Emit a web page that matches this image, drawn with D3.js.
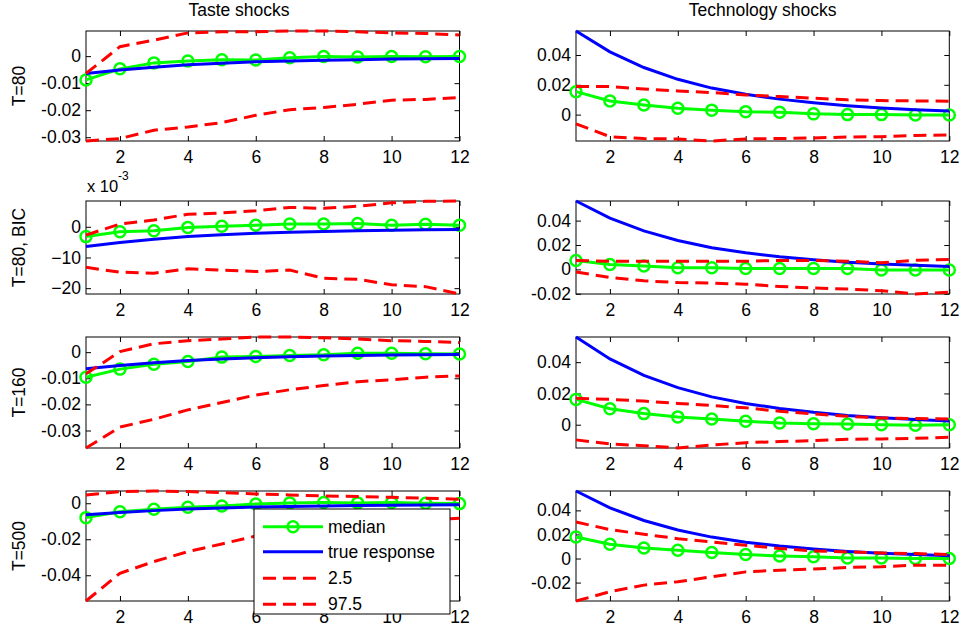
<!DOCTYPE html>
<html><head><meta charset="utf-8">
<script src="https://cdn.jsdelivr.net/npm/d3@7"></script>
<style>
body{margin:0;background:#fff}
svg{display:block}
text{font-family:"Liberation Sans",Arial,Helvetica,sans-serif;fill:#000}
</style>
</head><body>
<svg id="chart" width="963" height="633"></svg>
<script>
// ---------------- DATA ----------------
const steps = [1,2,3,4,5,6,7,8,9,10,11,12];
const xTicks = [2,4,6,8,10,12];
const colTitles = ["Taste shocks","Technology shocks"];
const rowLabels = ["T=80","T=80, BIC","T=160","T=500"];
const legendLabels = ["median","true response","2.5","97.5"];

// true responses
const trueTaste = [-0.0064,-0.0051,-0.0041,-0.0032,-0.0026,-0.0021,-0.0018,-0.0015,-0.0013,-0.0011,-0.0010,-0.0009];
const trueTech  = [0.0561,0.0421,0.0316,0.0237,0.0178,0.0136,0.0104,0.0079,0.0059,0.0044,0.0033,0.0024];

// Taste shocks
const tasteMedT80  = [-0.0088,-0.0047,-0.0025,-0.0018,-0.0013,-0.0014,-0.0006,-0.0001,-0.0003,-0.0001,-0.0002,-0.0001];
const tasteLowT80  = [-0.0314,-0.0305,-0.0274,-0.0262,-0.0246,-0.0219,-0.0198,-0.0190,-0.0178,-0.0163,-0.0160,-0.0153];
const tasteHighT80 = [-0.0064,0.0035,0.0059,0.0086,0.0090,0.0090,0.0093,0.0093,0.0090,0.0086,0.0084,0.0078];

const tasteMedBIC  = [-0.0032,-0.0016,-0.0013,-0.0002,0.0002,0.0005,0.0009,0.0009,0.0011,0.0005,0.0008,0.0005];
const tasteLowBIC  = [-0.0132,-0.0148,-0.0151,-0.0137,-0.0141,-0.0146,-0.0141,-0.0168,-0.0171,-0.0189,-0.0195,-0.0219];
const tasteHighBIC = [-0.0027,0.0009,0.0022,0.0041,0.0045,0.0052,0.0063,0.0060,0.0067,0.0078,0.0083,0.0084];

const tasteMedT160  = [-0.0096,-0.0065,-0.0046,-0.0036,-0.0019,-0.0017,-0.0013,-0.0010,-0.0004,-0.0004,-0.0006,-0.0007];
const tasteLowT160  = [-0.0367,-0.0287,-0.0257,-0.0221,-0.0193,-0.0164,-0.0144,-0.0128,-0.0113,-0.0106,-0.0096,-0.0091];
const tasteHighT160 = [-0.0083,0.0002,0.0032,0.0044,0.0050,0.0058,0.0058,0.0055,0.0050,0.0044,0.0041,0.0037];

const tasteMedT500  = [-0.0080,-0.0047,-0.0033,-0.0022,-0.0015,-0.0004,0.0002,0.0004,0.0002,0.0004,0.0000,-0.0002];
const tasteLowT500  = [-0.0543,-0.0389,-0.0324,-0.0269,-0.0226,-0.0182,-0.0155,-0.0133,-0.0115,-0.0102,-0.0092,-0.0083];
const tasteHighT500 = [0.0046,0.0065,0.0068,0.0065,0.0059,0.0052,0.0046,0.0041,0.0037,0.0033,0.0028,0.0022];

// Technology shocks
const techMedT80  = [0.0154,0.0092,0.0065,0.0043,0.0030,0.0020,0.0016,0.0005,0.0000,0.0000,-0.0002,-0.0002];
const techLowT80  = [-0.0062,-0.0148,-0.0161,-0.0163,-0.0177,-0.0163,-0.0160,-0.0157,-0.0150,-0.0148,-0.0140,-0.0136];
const techHighT80 = [0.0188,0.0188,0.0172,0.0159,0.0148,0.0132,0.0121,0.0110,0.0099,0.0094,0.0092,0.0090];

const techMedBIC  = [0.0073,0.0040,0.0027,0.0013,0.0013,0.0008,0.0008,0.0008,0.0008,-0.0005,-0.0005,-0.0005];
const techLowBIC  = [-0.0021,-0.0067,-0.0094,-0.0108,-0.0113,-0.0121,-0.0140,-0.0153,-0.0161,-0.0175,-0.0202,-0.0186];
const techHighBIC = [0.0073,0.0067,0.0067,0.0067,0.0067,0.0067,0.0073,0.0073,0.0067,0.0054,0.0075,0.0081];

const techMedT160  = [0.0162,0.0102,0.0071,0.0050,0.0037,0.0022,0.0011,0.0006,0.0004,0.0000,-0.0004,0.0000];
const techLowT160  = [-0.0097,-0.0123,-0.0134,-0.0149,-0.0130,-0.0115,-0.0108,-0.0102,-0.0093,-0.0091,-0.0087,-0.0080];
const techHighT160 = [0.0169,0.0162,0.0151,0.0136,0.0123,0.0108,0.0086,0.0069,0.0054,0.0043,0.0039,0.0037];

const techMedT500  = [0.0179,0.0118,0.0088,0.0069,0.0050,0.0033,0.0021,0.0014,0.0005,0.0005,0.0000,0.0000];
const techLowT500  = [-0.0353,-0.0276,-0.0221,-0.0193,-0.0152,-0.0111,-0.0097,-0.0088,-0.0074,-0.0069,-0.0055,-0.0055];
const techHighT500 = [0.0303,0.0240,0.0201,0.0165,0.0137,0.0110,0.0083,0.0063,0.0055,0.0046,0.0041,0.0033];

// y tick values
const tasteTicksT80  = [-0.03,-0.02,-0.01,0];
const tasteTicksBIC  = [-0.02,-0.01,0];
const tasteTicksT160 = [-0.03,-0.02,-0.01,0];
const tasteTicksT500 = [-0.04,-0.02,0];
const techTicksT80   = [0,0.02,0.04];
const techTicksBIC   = [-0.02,0,0.02,0.04];
const techTicksT160  = [0,0.02,0.04];
const techTicksT500  = [-0.02,0,0.02,0.04];

// ---------------- LAYOUT ----------------
const colX = [[86,459.5],[576,949.3]];
const rowY = [[31,141],[201,294],[337,448],[491,601]];
const FS = 17.5;
const GREEN = "#00ff00", BLUE = "#0000ff", RED = "#ff0000";

const panels = [
  {r:0,c:0,med:tasteMedT80,low:tasteLowT80,high:tasteHighT80,truth:trueTaste,ticks:tasteTicksT80},
  {r:1,c:0,med:tasteMedBIC,low:tasteLowBIC,high:tasteHighBIC,truth:trueTaste,ticks:tasteTicksBIC,exp:true},
  {r:2,c:0,med:tasteMedT160,low:tasteLowT160,high:tasteHighT160,truth:trueTaste,ticks:tasteTicksT160},
  {r:3,c:0,med:tasteMedT500,low:tasteLowT500,high:tasteHighT500,truth:trueTaste,ticks:tasteTicksT500},
  {r:0,c:1,med:techMedT80,low:techLowT80,high:techHighT80,truth:trueTech,ticks:techTicksT80},
  {r:1,c:1,med:techMedBIC,low:techLowBIC,high:techHighBIC,truth:trueTech,ticks:techTicksBIC},
  {r:2,c:1,med:techMedT160,low:techLowT160,high:techHighT160,truth:trueTech,ticks:techTicksT160},
  {r:3,c:1,med:techMedT500,low:techLowT500,high:techHighT500,truth:trueTech,ticks:techTicksT500}
];

const svg = d3.select("#chart");
svg.append("rect").attr("width",963).attr("height",633).attr("fill","#fff");

const fmt = d => d === 0 ? "0" : String(+d.toFixed(4));

panels.forEach(p => {
  const [x0,x1] = colX[p.c];
  const [y0,y1] = rowY[p.r];
  const x = d3.scaleLinear().domain([1,12]).range([x0,x1]);
  const all = [].concat(p.med,p.low,p.high,p.truth);
  const y = d3.scaleLinear().domain(d3.extent(all)).range([y1,y0]);
  const g = svg.append("g");

  // frame
  g.append("rect").attr("x",x0).attr("y",y0).attr("width",x1-x0).attr("height",y1-y0)
    .attr("fill","#fff").attr("stroke","none");

  const yfmt = p.exp ? (d => d3.format("d")(Math.round(d*1000))) : fmt;

  // axes (ticks inward, mirrored)
  const ab = g.append("g").attr("transform",`translate(0,${y1})`)
    .call(d3.axisBottom(x).tickValues(xTicks).tickSizeInner(-5).tickSizeOuter(0).tickPadding(9.5).tickFormat(d3.format("d")));
  const at = g.append("g").attr("transform",`translate(0,${y0})`)
    .call(d3.axisTop(x).tickValues(xTicks).tickSizeInner(-5).tickSizeOuter(0).tickFormat(""));
  const al = g.append("g").attr("transform",`translate(${x0},0)`)
    .call(d3.axisLeft(y).tickValues(p.ticks).tickSizeInner(-5).tickSizeOuter(0).tickPadding(5).tickFormat(yfmt));
  const ar = g.append("g").attr("transform",`translate(${x1},0)`)
    .call(d3.axisRight(y).tickValues(p.ticks).tickSizeInner(-5).tickSizeOuter(0).tickFormat(""));
  [ab,at,al,ar].forEach(a => {
    a.select(".domain").remove();
    a.selectAll("line").attr("stroke","#000").attr("stroke-width",1);
    a.selectAll("text").attr("font-size",FS).attr("font-family",null).attr("fill","#000");
  });
  g.append("rect").attr("x",x0).attr("y",y0).attr("width",x1-x0).attr("height",y1-y0)
    .attr("fill","none").attr("stroke","#000").attr("stroke-width",1);

  const line = arr => d3.line().x((d,i)=>x(steps[i])).y(d=>y(d))(arr);

  // median
  g.append("path").attr("d",line(p.med)).attr("fill","none").attr("stroke",GREEN).attr("stroke-width",3);
  g.selectAll("circle.m").data(p.med).join("circle")
    .attr("cx",(d,i)=>x(steps[i])).attr("cy",d=>y(d)).attr("r",5.5)
    .attr("fill","none").attr("stroke",GREEN).attr("stroke-width",2.5);
  // true
  g.append("path").attr("d",line(p.truth)).attr("fill","none").attr("stroke",BLUE).attr("stroke-width",3);
  // bands
  [p.low,p.high].forEach(b => {
    g.append("path").attr("d",line(b)).attr("fill","none").attr("stroke",RED)
      .attr("stroke-width",3).attr("stroke-dasharray","13,7");
  });

  // row label
  if (p.c === 0) {
    svg.append("text").attr("transform",`translate(25,${(y0+y1)/2}) rotate(-90)`)
      .attr("text-anchor","middle").attr("font-size",FS).text(rowLabels[p.r]);
  }
  if (p.exp) {
    svg.append("text").attr("x",x0+1).attr("y",y0-9).attr("font-size",FS-1).text("x 10");
    svg.append("text").attr("x",x0+32).attr("y",y0-21).attr("font-size",12).text("-3");
  }
  if (p.r === 0) {
    svg.append("text").attr("x",p.c===0 ? 239 : (x0+x1)/2).attr("y",16)
      .attr("text-anchor","middle").attr("font-size",FS).text(colTitles[p.c]);
  }
});

// legend
const lg = svg.append("g");
lg.append("rect").attr("x",254).attr("y",509).attr("width",196).attr("height",105)
  .attr("fill","#fff").attr("stroke","#000").attr("stroke-width",1);
const legRows = [
  {label:legendLabels[0],color:GREEN,dash:null,marker:true},
  {label:legendLabels[1],color:BLUE,dash:null,marker:false},
  {label:legendLabels[2],color:RED,dash:"13,7",marker:false},
  {label:legendLabels[3],color:RED,dash:"13,7",marker:false}
];
const legY = [526.7,551.7,578.3,604.3];
legRows.forEach((d,i) => {
  const yy = legY[i];
  lg.append("line").attr("x1",263).attr("x2",323).attr("y1",yy).attr("y2",yy)
    .attr("stroke",d.color).attr("stroke-width",3).attr("stroke-dasharray",d.dash);
  if (d.marker) lg.append("circle").attr("cx",293).attr("cy",yy).attr("r",5.5)
    .attr("fill","none").attr("stroke",d.color).attr("stroke-width",2.5);
  lg.append("text").attr("x",328).attr("y",yy).attr("dy","0.35em").attr("font-size",FS).text(d.label);
});
</script>
</body></html>
